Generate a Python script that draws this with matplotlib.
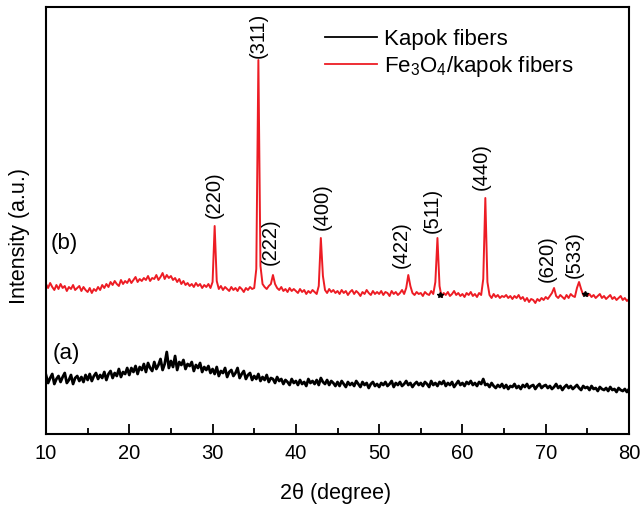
import numpy as np
import matplotlib
matplotlib.use("Agg")
import matplotlib.pyplot as plt

plt.rcParams['font.family'] = ['Liberation Sans', 'DejaVu Sans']
plt.rcParams['mathtext.default'] = 'regular'

# 2theta grid, 10..80 in 0.25 deg steps
two_theta = np.arange(281) * 0.25 + 10

# (a) kapok fibers (arb. units)
kapok = [
    59, 51, 56, 60, 50, 55, 58, 52, 57, 61, 51, 54, 59, 50, 56, 58, 53, 57, 52, 59,
    54, 60, 53, 58, 61, 55, 59, 56, 62, 54, 60, 63, 56, 61, 58, 65, 57, 62, 60, 66,
    59, 66, 62, 68, 60, 67, 64, 70, 62, 71, 66, 63, 72, 65, 69, 75, 64, 70, 82, 66,
    73, 67, 78, 64, 72, 69, 74, 65, 70, 68, 72, 63, 69, 66, 71, 62, 67, 64, 68, 61,
    65, 60, 67, 58, 63, 61, 66, 57, 62, 64, 58, 61, 66, 56, 60, 63, 55, 59, 61, 54,
    58, 55, 60, 53, 57, 54, 59, 52, 56, 55, 51, 57, 53, 55, 50, 54, 52, 49, 55, 51,
    53, 49, 54, 50, 52, 48, 55, 51, 53, 50, 54, 49, 56, 52, 50, 54, 49, 53, 51, 48,
    52, 48, 53, 50, 47, 52, 49, 51, 48, 53, 50, 47, 52, 49, 51, 46, 50, 52, 48, 50,
    47, 51, 49, 52, 48, 50, 53, 47, 51, 49, 52, 48, 50, 53, 49, 51, 47, 50, 52, 49,
    51, 48, 52, 50, 47, 53, 49, 51, 48, 52, 50, 53, 48, 51, 49, 52, 47, 50, 53, 49,
    51, 48, 52, 50, 53, 49, 51, 48, 52, 50, 55, 49, 50, 47, 51, 48, 46, 49, 47, 50,
    46, 49, 45, 48, 47, 50, 46, 48, 45, 49, 47, 50, 46, 48, 49, 45, 48, 50, 46, 48,
    49, 46, 48, 45, 47, 50, 46, 48, 44, 47, 49, 46, 48, 45, 47, 49, 46, 44, 48, 46,
    47, 44, 48, 45, 46, 43, 47, 45, 44, 46, 43, 47, 44, 45, 42, 46, 44, 43, 45, 42,
    45,
]

# (b) Fe3O4/kapok fibers
fe3o4 = [
    150, 146, 151, 147, 144, 149, 145, 150, 146, 148, 143, 147, 145, 149, 144, 146, 148, 143, 147, 144,
    142, 146, 141, 145, 143, 147, 144, 149, 146, 150, 147, 152, 149, 153, 150, 148, 154, 150, 153, 151,
    155, 151, 154, 157, 152, 155, 153, 156, 154, 158, 153, 156, 155, 159, 154, 157, 161, 155, 159, 156,
    158, 154, 156, 152, 155, 150, 153, 149, 151, 148, 150, 147, 151, 148, 150, 146, 149, 147, 150, 146,
    152, 208, 153, 145, 148, 144, 147, 145, 143, 147, 144, 146, 143, 147, 145, 142, 146, 144, 147, 145,
    146, 165, 374, 168, 150, 147, 145, 148, 150, 159, 150, 146, 144, 147, 143, 145, 142, 146, 143, 145,
    143, 141, 145, 142, 144, 140, 143, 141, 144, 142, 140, 148, 196, 158, 144, 141, 145, 142, 144, 141,
    143, 140, 144, 141, 143, 139, 142, 144, 140, 143, 141, 138, 142, 140, 144, 141, 139, 143, 140, 142,
    140, 143, 139, 142, 141, 138, 143, 140, 142, 139, 141, 144, 140, 146, 159, 148, 141, 139, 142, 140,
    141, 138, 142, 140, 139, 143, 140, 152, 196, 148, 137, 141, 139, 142, 138, 140, 143, 139, 141, 138,
    140, 137, 141, 139, 142, 138, 140, 137, 141, 139, 155, 236, 152, 139, 136, 140, 137, 139, 136, 138,
    137, 139, 136, 138, 135, 138, 136, 139, 135, 137, 133, 136, 132, 135, 134, 131, 135, 133, 136, 134,
    137, 135, 138, 141, 146, 138, 136, 139, 137, 135, 139, 136, 140, 138, 137, 146, 152, 145, 139, 141,
    138, 140, 137, 139, 136, 138, 140, 136, 138, 135, 137, 139, 135, 137, 134, 136, 138, 134, 136, 133,
    135,
]

# hkl labels: text, x, y (bottom of label)
hkl = ["(220)", "(311)", "(222)", "(400)", "(422)", "(511)", "(440)", "(620)", "(533)"]
hkl_x = [30.2, 35.45, 36.9, 43.2, 52.6, 56.4, 62.2, 70.2, 73.4]
hkl_y = [216, 376, 169, 204, 166, 201, 244, 152, 156]

# small * marks on curve (b)
star_x = [57.3, 74.7]
star_y = [139, 140]

fig = plt.figure(figsize=(6.42, 5.09), dpi=100)
ax = fig.add_axes([46/642, 75/509, 583/642, 427/509])

ax.plot(two_theta, kapok, color='black', lw=2.0, label='Kapok fibers')
ax.plot(two_theta, fe3o4, color='#ed1c24', lw=1.4, label='Fe$_3$O$_4$/kapok fibers')
ax.plot(star_x, star_y, ls='none', marker='*', ms=4, color='black')

for t, x, y in zip(hkl, hkl_x, hkl_y):
    ax.text(x, y, t, rotation=90, ha='center', va='bottom', fontsize=14.5)

ax.text(10.5, 191, "(b)", fontsize=16, va='center', ha='left')
ax.text(10.8, 81, "(a)", fontsize=16, va='center', ha='left')

ax.set_xlim(10, 80)
ax.set_ylim(0, 427)
ax.set_xticks(range(10, 81, 10))
ax.set_xticks(range(15, 80, 10), minor=True)
ax.set_yticks([])
ax.tick_params(axis='x', which='major', direction='in', length=7, width=1.3,
               labelsize=14.5, pad=7)
ax.tick_params(axis='x', which='minor', direction='in', length=4, width=1.3)
for s in ax.spines.values():
    s.set_linewidth(1.5)

ax.set_xlabel("2θ (degree)", fontsize=15.5)
ax.set_ylabel("Intensity (a.u.)", fontsize=15.5)
ax.xaxis.set_label_coords(0.497, -0.115)
ax.yaxis.set_label_coords(-0.028, 0.464)

leg = ax.legend(loc='upper left', bbox_to_anchor=(0.4786, 0.948), frameon=False,
                fontsize=16, handlelength=2.34, handletextpad=0.32, labelspacing=0.15,
                borderpad=0, borderaxespad=0)
for h in leg.legend_handles:
    h.set_linewidth(1.3)

fig.savefig("out.png", dpi=100)
